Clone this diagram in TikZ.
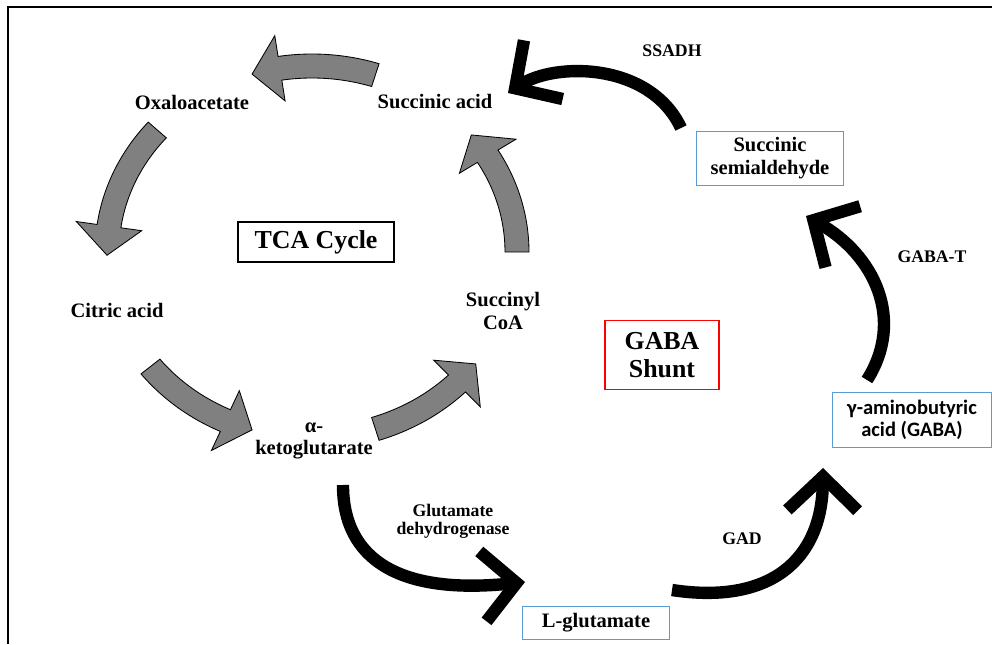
\documentclass[tikz,border=0pt]{standalone}
\usepackage{fontspec}
\setmainfont{Liberation Serif}
\newfontfamily\calibfont{Carlito}
\usetikzlibrary{arrows.meta}
\definecolor{boxblue}{RGB}{91,155,213}
\definecolor{tcagray}{RGB}{128,128,128}

% curved block arrow on the TCA ellipse: tail angle, head base angle, tip angle
\newcommand{\tcaarrow}[3]{%
  \filldraw[tcabody] plot[domain=#1:#2,samples=30] ({312+217*cos(\x)},{252+198*sin(\x)})
    -- ({312+238*cos(#2)},{252+219*sin(#2)})
    -- ({312+205*cos(#3)},{252+186*sin(#3)})
    -- ({312+172*cos(#2)},{252+153*sin(#2)})
    -- plot[domain=#2:#1,samples=30] ({312+193*cos(\x)},{252+174*sin(\x)})
    -- cycle;}

\begin{document}
\begin{tikzpicture}[x=0.025cm, y=-0.025cm,
    lbl/.style={font=\bfseries\fontsize{14.6}{16}\selectfont, align=center, inner sep=0pt},
    enz/.style={font=\bfseries\fontsize{12.6}{13}\selectfont, align=center, inner sep=0pt},
    titlebox/.style={font=\bfseries\fontsize{18.4}{20}\selectfont, align=center, line width=1.4pt, inner sep=0pt},
    metabox/.style={lbl, draw=boxblue, line width=0.7pt},
    tcabody/.style={fill=tcagray, draw=black, line width=0.6pt, line join=miter},
    shunt/.style={line width=8.8pt, -{Straight Barb[sharp, length=24pt, width=50pt]}}]
    \useasboundingbox (0,0) rectangle (992,644);

    % Frame
    \draw[line width=1.4pt] (8,644) -- (8,7) -- (992,7);

    % TCA cycle
    \node[lbl] (oxa) at (192,102) {Oxaloacetate};
    \node[lbl] (suca) at (435,102) {Succinic acid};
    \node[lbl] (cit) at (117,310) {Citric acid};
    \node[lbl] (scoa) at (503,311) {Succinyl\\CoA};
    \node[lbl] (akg) at (314,441) {α-\\ketoglutarate};
    \node[titlebox, draw=black, minimum width=3.9cm, minimum height=1cm] (tca) at (316,242) {TCA Cycle};

    \tcaarrow{-72}{-99}{-107}
    \tcaarrow{-139}{-172}{-181}
    \tcaarrow{142}{115}{107}
    \tcaarrow{72}{45}{37}
    \tcaarrow{0}{-31}{-39}

    % GABA shunt
    \node[titlebox, draw=red, minimum width=2.85cm, minimum height=1.725cm] (gshunt) at (662,355) {GABA\\Shunt};
    \node[metabox, minimum width=3.65cm, minimum height=1.35cm] (ssa) at (770,158) {Succinic\\semialdehyde};
    \node[metabox, minimum width=3.675cm, minimum height=0.825cm] (lglu) at (596,623) {L-glutamate};
    \node[metabox, font=\calibfont\bfseries\fontsize{14.6}{16}\selectfont, minimum width=3.975cm, minimum height=1.375cm] (gaba) at (912,420) {γ-aminobutyric\\acid (GABA)};

    \node[enz] (gdh) at (453,521) {Glutamate\\dehydrogenase};
    \node[enz] (gad) at (742,539) {GAD};
    \node[enz] (gabat) at (932,257) {GABA-T};
    \node[enz] (ssadh) at (672,51) {SSADH};

    \coordinate (gdhS) at (343,485);
    \coordinate (gdhE) at (525,582);
    \coordinate (gadS) at (672,590);
    \coordinate (gadE) at (823,468);
    \coordinate (gabatS) at (867,380);
    \coordinate (gabatE) at (806,216);
    \coordinate (ssadhS) at (681,128);
    \coordinate (ssadhE) at (508,93);

    \draw[shunt] (gdhS) .. controls (343,560) and (400,595) .. (gdhE);
    \draw[shunt] (gadS) .. controls (770,605) and (822,560) .. (gadE);
    \draw[shunt] (gabatS) .. controls (905,320) and (875,255) .. (gabatE);
    \draw[shunt] (ssadhS) .. controls (650,62) and (555,62) .. (ssadhE);
\end{tikzpicture}
\end{document}
